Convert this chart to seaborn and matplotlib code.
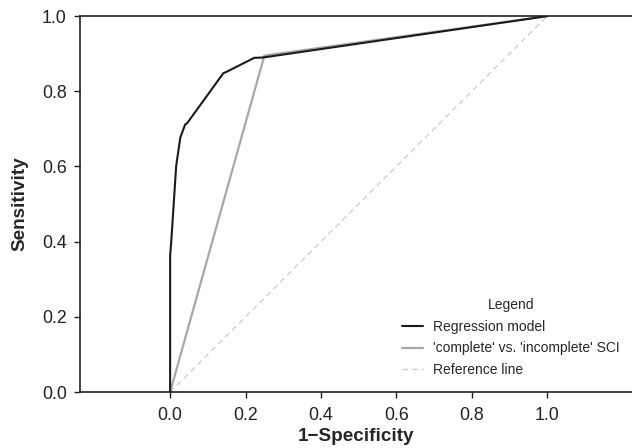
import pandas as pd
import seaborn as sns
import matplotlib.pyplot as plt

# ROC points
reg_fpr = [0.0, 0.0, 0.003, 0.006, 0.016, 0.027, 0.04, 0.045, 0.141, 0.15, 0.223, 0.247, 1.0]
reg_tpr = [0.0, 0.363, 0.40, 0.447, 0.601, 0.677, 0.712, 0.715, 0.848, 0.852, 0.889, 0.89, 1.0]
sci_fpr = [0.0, 0.25, 1.0]
sci_tpr = [0.0, 0.895, 1.0]
ref_fpr = [0.0, 1.0]
ref_tpr = [0.0, 1.0]

sns.set_style("ticks")
plt.rcParams['font.family'] = ['Liberation Sans', 'DejaVu Sans']

fig = plt.figure(figsize=(6.32, 4.48), dpi=100)
ax = fig.add_axes([0.1266, 0.125, 0.8734, 0.839])

reg = pd.DataFrame({'fpr': reg_fpr, 'tpr': reg_tpr})
sci = pd.DataFrame({'fpr': sci_fpr, 'tpr': sci_tpr})
ref = pd.DataFrame({'fpr': ref_fpr, 'tpr': ref_tpr})

sns.lineplot(x='fpr', y='tpr', data=ref, ax=ax, sort=False, estimator=None,
             color='#cfcfcf', lw=1.0, linestyle=(0, (4, 3)), label='Reference line', zorder=1)
sns.lineplot(x='fpr', y='tpr', data=sci, ax=ax, sort=False, estimator=None,
             color='#a8a8a8', lw=1.6, label="'complete' vs. 'incomplete' SCI", zorder=2)
sns.lineplot(x='fpr', y='tpr', data=reg, ax=ax, sort=False, estimator=None,
             color='#1a1a1a', lw=1.5, label='Regression model', zorder=3)

ax.set_xlim(-0.239, 1.225)
ax.set_ylim(0, 1)
ax.set_xticks([0, 0.2, 0.4, 0.6, 0.8, 1.0])
ax.set_yticks([0, 0.2, 0.4, 0.6, 0.8, 1.0])
ax.set_xticklabels(['0.0', '0.2', '0.4', '0.6', '0.8', '1.0'])
ax.set_yticklabels(['0.0', '0.2', '0.4', '0.6', '0.8', '1.0'])
ax.tick_params(labelsize=12.8, colors='#222222', length=4.5, width=1)
ax.tick_params(axis='y', pad=5)
ax.tick_params(axis='x', pad=6)
for s in ['left', 'bottom', 'top']:
    ax.spines[s].set_color('#222222')
    ax.spines[s].set_linewidth(1.2)
ax.spines['right'].set_visible(False)
ax.set_xlabel('1\u2212Specificity', fontsize=13.6, fontweight='bold', labelpad=3)
ax.set_ylabel('Sensitivity', fontsize=13.6, fontweight='bold', labelpad=10)

h, l = ax.get_legend_handles_labels()
leg = ax.legend(h[::-1], l[::-1], title='Legend', frameon=False, fontsize=10,
                title_fontsize=10, loc='lower right', bbox_to_anchor=(0.998, 0.01),
                handlelength=1.5, handletextpad=0.75, labelspacing=0.55, borderpad=0.3)

fig.savefig('out.png', dpi=100)
